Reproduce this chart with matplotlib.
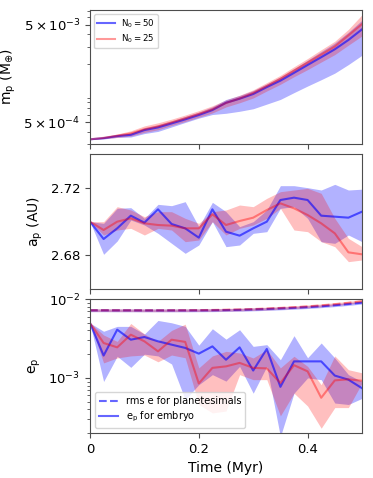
import numpy as np
import matplotlib
matplotlib.use("Agg")
import matplotlib.pyplot as plt
from matplotlib.ticker import LogLocator, NullFormatter

plt.rcParams['mathtext.default'] = 'regular'
plt.rcParams['font.size'] = 9.5
plt.rcParams['axes.edgecolor'] = '0.3'
plt.rcParams['xtick.color'] = '0.3'
plt.rcParams['ytick.color'] = '0.3'
plt.rcParams['xtick.labelcolor'] = 'black'
plt.rcParams['ytick.labelcolor'] = 'black'

# time (Myr)
t = [0.0, 0.025, 0.05, 0.075, 0.1, 0.125, 0.15, 0.175, 0.2, 0.225, 0.25,
     0.275, 0.3, 0.325, 0.35, 0.375, 0.4, 0.425, 0.45, 0.475, 0.5]

# embryo mass (M_earth), N0 = 50 and N0 = 25
m50 = [3.35e-4, 3.45e-4, 3.62e-4, 3.73e-4, 4.17e-4, 4.44e-4, 4.88e-4, 5.37e-4,
       5.95e-4, 6.69e-4, 7.95e-4, 8.74e-4, 9.77e-4, 1.15e-3, 1.34e-3, 1.61e-3,
       1.94e-3, 2.33e-3, 2.81e-3, 3.50e-3, 4.50e-3]
m50_hi = [3.35e-4, 3.52e-4, 3.73e-4, 3.88e-4, 4.38e-4, 4.71e-4, 5.17e-4, 5.75e-4,
          6.37e-4, 7.23e-4, 8.59e-4, 9.44e-4, 1.06e-3, 1.24e-3, 1.46e-3, 1.77e-3,
          2.17e-3, 2.66e-3, 3.26e-3, 4.20e-3, 5.59e-3]
m50_lo = [3.35e-4, 3.38e-4, 3.51e-4, 3.54e-4, 3.84e-4, 4.04e-4, 4.49e-4, 4.99e-4,
          5.53e-4, 6.02e-4, 6.20e-4, 6.50e-4, 6.90e-4, 7.70e-4, 8.60e-4, 1.01e-3,
          1.18e-3, 1.37e-3, 1.60e-3, 1.96e-3, 2.44e-3]
m25 = [3.35e-4, 3.47e-4, 3.65e-4, 3.85e-4, 4.25e-4, 4.55e-4, 5.00e-4, 5.50e-4,
       6.10e-4, 6.80e-4, 7.90e-4, 8.80e-4, 1.00e-3, 1.18e-3, 1.40e-3, 1.70e-3,
       2.05e-3, 2.48e-3, 3.00e-3, 3.90e-3, 5.10e-3]
m25_hi = [3.35e-4, 3.55e-4, 3.80e-4, 4.10e-4, 4.60e-4, 4.95e-4, 5.40e-4, 5.95e-4,
          6.60e-4, 7.40e-4, 8.50e-4, 9.50e-4, 1.08e-3, 1.28e-3, 1.52e-3, 1.86e-3,
          2.26e-3, 2.78e-3, 3.40e-3, 4.50e-3, 6.35e-3]
m25_lo = [3.35e-4, 3.40e-4, 3.50e-4, 3.62e-4, 3.95e-4, 4.20e-4, 4.65e-4, 5.10e-4,
          5.65e-4, 6.25e-4, 7.20e-4, 7.95e-4, 8.90e-4, 1.05e-3, 1.23e-3, 1.47e-3,
          1.74e-3, 2.08e-3, 2.48e-3, 3.10e-3, 3.85e-3]

# semi-major axis (AU)
a50 = [2.700, 2.6896, 2.696, 2.7036, 2.6994, 2.7074, 2.6986, 2.696, 2.6904, 2.7074,
       2.694, 2.6916, 2.696, 2.700, 2.713, 2.7144, 2.713, 2.7036, 2.703, 2.7024, 2.706]
a50_hi = [2.700, 2.699, 2.708, 2.7084, 2.702, 2.7104, 2.7096, 2.712, 2.697, 2.7116,
          2.706, 2.697, 2.700, 2.707, 2.7216, 2.7216, 2.7204, 2.719, 2.7224, 2.719, 2.7195]
a50_lo = [2.700, 2.6804, 2.6884, 2.701, 2.698, 2.693, 2.687, 2.681, 2.686, 2.700,
          2.685, 2.686, 2.693, 2.694, 2.708, 2.709, 2.702, 2.688, 2.687, 2.692, 2.688]
a25 = [2.700, 2.695, 2.700, 2.702, 2.699, 2.698, 2.6976, 2.696, 2.696, 2.7044,
       2.698, 2.7004, 2.7024, 2.707, 2.711, 2.708, 2.704, 2.699, 2.693, 2.6816, 2.6804]
a25_hi = [2.700, 2.700, 2.709, 2.707, 2.703, 2.706, 2.706, 2.702, 2.699, 2.706,
          2.707, 2.710, 2.709, 2.714, 2.718, 2.719, 2.720, 2.717, 2.702, 2.690, 2.685]
a25_lo = [2.700, 2.692, 2.695, 2.696, 2.692, 2.696, 2.695, 2.688, 2.689, 2.700,
          2.692, 2.696, 2.698, 2.702, 2.708, 2.695, 2.694, 2.688, 2.685, 2.676, 2.677]

# embryo eccentricity
e50 = [4.97e-3, 1.92e-3, 4.09e-3, 3.05e-3, 3.30e-3, 2.91e-3, 2.64e-3, 2.40e-3,
       2.03e-3, 2.51e-3, 1.70e-3, 2.44e-3, 1.24e-3, 2.33e-3, 7.7e-4, 1.62e-3,
       1.62e-3, 1.62e-3, 1.07e-3, 9.5e-4, 7.4e-4]
e50_hi = [4.97e-3, 3.9e-3, 4.5e-3, 4.5e-3, 3.6e-3, 5.35e-3, 5.0e-3, 4.5e-3,
          2.6e-3, 4.2e-3, 3.1e-3, 4.08e-3, 2.51e-3, 2.64e-3, 1.70e-3, 3.43e-3,
          1.8e-3, 2.77e-3, 1.79e-3, 1.10e-3, 9.0e-4]
e50_lo = [4.97e-3, 9.0e-4, 1.88e-3, 1.36e-3, 2.0e-3, 1.9e-3, 1.5e-3, 5.3e-4,
          8.2e-4, 1.1e-3, 9.1e-4, 1.40e-3, 6.4e-4, 1.40e-3, 1.8e-4, 6.4e-4,
          1.0e-3, 9.5e-4, 4.8e-4, 4.6e-4, 5.5e-4]
e25 = [4.97e-3, 2.77e-3, 2.44e-3, 3.53e-3, 2.91e-3, 2.17e-3, 3.05e-3, 2.86e-3,
       8.5e-4, 1.34e-3, 1.40e-3, 1.55e-3, 1.34e-3, 1.32e-3, 8.6e-4, 1.45e-3,
       1.21e-3, 5.6e-4, 9.3e-4, 9.6e-4, 9.2e-4]
e25_hi = [4.97e-3, 3.5e-3, 2.9e-3, 4.9e-3, 3.6e-3, 2.9e-3, 4.0e-3, 4.8e-3,
          1.34e-3, 1.9e-3, 2.17e-3, 2.07e-3, 1.79e-3, 2.28e-3, 1.34e-3, 1.88e-3,
          1.40e-3, 8.2e-4, 1.90e-3, 1.27e-3, 1.16e-3]
e25_lo = [4.97e-3, 1.55e-3, 1.79e-3, 1.9e-3, 1.95e-3, 1.6e-3, 1.95e-3, 1.8e-3,
          4.6e-4, 3.6e-4, 3.8e-4, 1.1e-3, 9.5e-4, 9.5e-4, 3.3e-4, 6.4e-4,
          4.4e-4, 2.3e-4, 4.2e-4, 4.2e-4, 8.6e-4]

# rms e of planetesimals
rms50 = [7.20e-3, 7.20e-3, 7.19e-3, 7.19e-3, 7.18e-3, 7.18e-3, 7.18e-3, 7.18e-3,
         7.19e-3, 7.21e-3, 7.25e-3, 7.30e-3, 7.38e-3, 7.48e-3, 7.60e-3, 7.74e-3,
         7.90e-3, 8.10e-3, 8.35e-3, 8.65e-3, 9.00e-3]
rms25 = [7.22e-3, 7.22e-3, 7.21e-3, 7.21e-3, 7.20e-3, 7.20e-3, 7.21e-3, 7.22e-3,
         7.24e-3, 7.27e-3, 7.32e-3, 7.38e-3, 7.47e-3, 7.58e-3, 7.72e-3, 7.88e-3,
         8.08e-3, 8.32e-3, 8.62e-3, 8.98e-3, 9.40e-3]
rms_spread = 0.04

blue_line = dict(color='b', alpha=0.6, lw=1.5)
red_line = dict(color='r', alpha=0.4, lw=1.5)

fig = plt.figure(figsize=(3.73, 4.78), dpi=100)
ax1 = fig.add_axes([0.2413, 0.6987, 0.7292, 0.2803])
ax2 = fig.add_axes([0.2413, 0.3954, 0.7292, 0.2824], sharex=ax1)
ax3 = fig.add_axes([0.2413, 0.0941, 0.7292, 0.2803], sharex=ax1)

# mass
ax1.fill_between(t, m50_lo, m50_hi, color='b', alpha=0.3, lw=0)
ax1.fill_between(t, m25_lo, m25_hi, color='r', alpha=0.25, lw=0)
ax1.plot(t, m50, label=r'$N_0 = 50$', **blue_line)
ax1.plot(t, m25, label=r'$N_0 = 25$', **red_line)
ax1.set_yscale('log')
ax1.set_ylim(3.0e-4, 7.1e-3)
ax1.set_yticks([5e-4, 5e-3])
ax1.set_yticklabels([r'$5\times10^{-4}$', r'$5\times10^{-3}$'])
ax1.yaxis.set_minor_locator(LogLocator(subs=np.arange(2, 10)))
ax1.yaxis.set_minor_formatter(NullFormatter())
ax1.set_ylabel(r'$m_p$ ($M_{\oplus}$)', fontsize=10)
ax1.legend(loc='upper left', fontsize=6.2, labelspacing=0.35, borderpad=0.35)

# semi-major axis
ax2.fill_between(t, a50_lo, a50_hi, color='b', alpha=0.3, lw=0)
ax2.fill_between(t, a25_lo, a25_hi, color='r', alpha=0.25, lw=0)
ax2.plot(t, a50, **blue_line)
ax2.plot(t, a25, **red_line)
ax2.set_ylim(2.6596, 2.7406)
ax2.set_yticks([2.68, 2.72])
ax2.set_ylabel(r'$a_p$ (AU)', fontsize=10)

# eccentricity
rms50_lo = [v * (1 - rms_spread) for v in rms50]
rms50_hi = [v * (1 + rms_spread) for v in rms50]
rms25_lo = [v * (1 - rms_spread) for v in rms25]
rms25_hi = [v * (1 + rms_spread) for v in rms25]
ax3.fill_between(t, rms50_lo, rms50_hi, color='b', alpha=0.3, lw=0)
ax3.fill_between(t, rms25_lo, rms25_hi, color='r', alpha=0.25, lw=0)
ax3.plot(t, rms50, ls='--', label='rms e for planetesimals', **blue_line)
ax3.plot(t, rms25, ls='--', **red_line)
ax3.fill_between(t, e50_lo, e50_hi, color='b', alpha=0.3, lw=0)
ax3.fill_between(t, e25_lo, e25_hi, color='r', alpha=0.25, lw=0)
ax3.plot(t, e50, label=r'$e_p$ for embryo', **blue_line)
ax3.plot(t, e25, **red_line)
ax3.set_yscale('log')
ax3.set_ylim(2.0e-4, 1.0e-2)
ax3.set_ylabel(r'$e_p$', fontsize=10)
ax3.legend(loc='lower left', fontsize=7, labelspacing=0.4)

ax3.set_xlim(0, 0.5)
ax3.set_xticks([0, 0.2, 0.4])
ax3.set_xticklabels(['0', '0.2', '0.4'])
ax3.set_xlabel('Time (Myr)', fontsize=10)
plt.setp(ax1.get_xticklabels(), visible=False)
plt.setp(ax2.get_xticklabels(), visible=False)

fig.savefig('out.png', dpi=100)
